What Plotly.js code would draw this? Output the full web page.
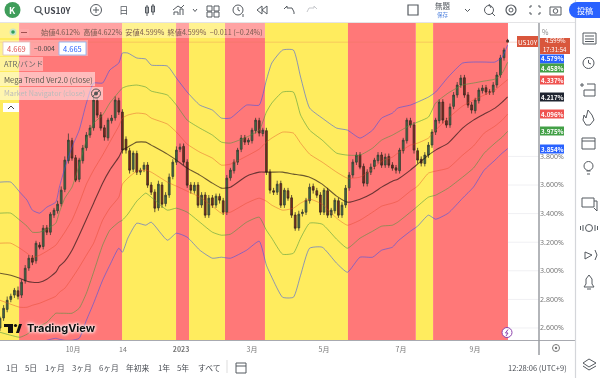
<!DOCTYPE html>
<html><head><meta charset="utf-8">
<script src="https://cdn.plot.ly/plotly-3.0.1.min.js"></script>
<style>html,body{margin:0;padding:0;background:#fff;overflow:hidden}#c{width:600px;height:378px;filter:blur(0.45px)}</style>
</head><body><div id="c"></div>
<script>
// ---- session index of the band samples
const bandX=[0,6,11,15,18,22,26,31,33,36,40,44,48,52,57,61,66,68,71,76,81,84,93,98,104,111,118,123,128,137,144,148,151,157,163,167,172,179,187,193,200,207,212,218,221,228,232,238,242,249,257,263,269,275,279,282];
const upper3=[3.620,3.620,3.550,3.494,3.424,3.403,3.445,3.480,3.585,3.718,3.865,3.984,4.173,4.313,4.313,4.404,4.453,4.523,4.523,4.488,4.481,4.439,4.432,4.348,4.250,4.159,4.124,4.068,4.068,4.159,4.159,4.334,4.453,4.544,4.544,4.355,4.138,4.068,3.998,3.984,3.928,3.984,4.068,4.103,4.138,4.159,4.180,4.215,4.250,4.355,4.453,4.460,4.460,4.460,4.495,4.579];
const upper2=[3.403,3.403,3.354,3.312,3.270,3.270,3.291,3.333,3.410,3.508,3.585,3.739,3.914,4.033,4.089,4.173,4.250,4.278,4.292,4.299,4.285,4.257,4.229,4.159,4.054,3.998,3.949,3.900,3.893,3.935,3.984,4.110,4.173,4.250,4.250,4.089,3.984,3.914,3.823,3.809,3.809,3.858,3.914,3.949,3.970,4.019,4.040,4.075,4.173,4.243,4.299,4.313,4.327,4.341,4.383,4.458];
const upper1=[3.193,3.193,3.158,3.123,3.095,3.109,3.137,3.179,3.214,3.270,3.354,3.473,3.606,3.704,3.809,3.900,4.012,4.068,4.089,4.103,4.096,4.068,4.026,3.970,3.886,3.830,3.788,3.739,3.746,3.802,3.851,3.900,3.928,3.970,3.963,3.893,3.816,3.760,3.690,3.648,3.655,3.711,3.767,3.795,3.823,3.879,3.893,3.928,3.984,4.068,4.152,4.194,4.229,4.264,4.306,4.337];
const center=[2.983,2.969,2.948,2.927,2.920,2.920,2.941,2.990,3.032,3.067,3.144,3.249,3.361,3.473,3.613,3.704,3.795,3.844,3.865,3.900,3.900,3.879,3.816,3.774,3.718,3.669,3.613,3.578,3.585,3.662,3.690,3.690,3.690,3.690,3.676,3.669,3.655,3.606,3.522,3.480,3.501,3.543,3.585,3.627,3.641,3.704,3.746,3.809,3.844,3.893,3.998,4.054,4.096,4.138,4.180,4.217];
const lower1=[2.794,2.766,2.745,2.745,2.759,2.773,2.794,2.822,2.850,2.878,2.948,3.025,3.109,3.193,3.354,3.438,3.515,3.606,3.648,3.697,3.704,3.690,3.620,3.592,3.557,3.515,3.452,3.403,3.410,3.473,3.508,3.487,3.459,3.424,3.438,3.473,3.501,3.466,3.368,3.319,3.354,3.410,3.452,3.473,3.487,3.557,3.592,3.683,3.697,3.718,3.809,3.872,3.963,4.012,4.054,4.096];
const lower2=[2.570,2.549,2.535,2.556,2.584,2.612,2.640,2.703,2.703,2.703,2.703,2.738,2.843,2.990,3.179,3.284,3.340,3.354,3.396,3.487,3.543,3.515,3.424,3.438,3.410,3.340,3.270,3.249,3.256,3.340,3.375,3.284,3.228,3.116,3.123,3.228,3.333,3.326,3.221,3.158,3.228,3.277,3.312,3.319,3.340,3.410,3.452,3.515,3.529,3.578,3.655,3.718,3.823,3.893,3.935,3.975];
const lower3=[2.430,2.416,2.416,2.444,2.472,2.493,2.514,2.528,2.521,2.514,2.514,2.528,2.654,2.773,2.934,3.039,3.158,3.130,3.228,3.333,3.319,3.340,3.214,3.263,3.235,3.144,3.088,3.095,3.088,3.144,3.207,3.039,2.955,2.815,2.815,2.969,3.158,3.165,3.053,2.990,3.095,3.095,3.144,3.165,3.207,3.277,3.312,3.389,3.361,3.403,3.508,3.585,3.704,3.774,3.823,3.854];
// ---- candles (every second session)
const closes=[2.668,2.738,2.794,2.822,2.864,2.822,2.920,3.018,3.088,3.060,3.193,3.165,3.298,3.270,3.396,3.424,3.466,3.564,3.774,3.914,3.788,3.634,3.774,3.858,3.949,3.998,4.194,4.089,3.998,3.935,4.054,4.068,4.194,4.110,3.844,3.844,3.704,3.823,3.690,3.704,3.739,3.599,3.550,3.438,3.606,3.466,3.529,3.655,3.760,3.844,3.865,3.760,3.599,3.564,3.599,3.459,3.529,3.389,3.508,3.459,3.522,3.494,3.410,3.648,3.704,3.760,3.844,3.928,3.900,3.914,3.984,4.054,3.963,3.984,3.690,3.564,3.550,3.606,3.459,3.564,3.508,3.389,3.298,3.396,3.410,3.494,3.585,3.564,3.529,3.410,3.564,3.389,3.424,3.494,3.389,3.459,3.578,3.669,3.760,3.809,3.725,3.613,3.690,3.725,3.774,3.809,3.739,3.795,3.739,3.718,3.704,3.844,3.914,4.054,4.019,3.844,3.774,3.753,3.809,3.879,3.970,4.054,4.180,4.054,4.019,4.145,4.229,4.299,4.348,4.229,4.159,4.124,4.194,4.264,4.278,4.250,4.250,4.299,4.369,4.488,4.544,4.599];
const opens=[2.60,2.67,2.73,2.80,2.83,2.86,2.83,2.93,3.02,3.09,3.07,3.18,3.17,3.30,3.27,3.39,3.42,3.47,3.57,3.77,3.91,3.79,3.64,3.77,3.86,3.95,4.00,4.19,4.09,4.00,3.93,4.05,4.07,4.19,4.11,3.92,3.84,3.71,3.82,3.69,3.71,3.74,3.60,3.55,3.44,3.60,3.47,3.53,3.66,3.76,3.85,3.87,3.76,3.60,3.56,3.60,3.46,3.53,3.39,3.51,3.46,3.52,3.49,3.41,3.65,3.70,3.76,3.85,3.93,3.90,3.91,3.98,4.05,3.96,3.98,3.69,3.56,3.55,3.61,3.46,3.56,3.51,3.39,3.30,3.40,3.41,3.49,3.59,3.56,3.53,3.41,3.56,3.39,3.42,3.49,3.39,3.46,3.58,3.67,3.76,3.81,3.73,3.61,3.69,3.73,3.77,3.81,3.74,3.80,3.74,3.72,3.70,3.84,3.91,4.05,4.02,3.84,3.78,3.75,3.81,3.88,3.97,4.05,4.18,4.05,4.02,4.15,4.23,4.30,4.35,4.23,4.16,4.12,4.19,4.26,4.28,4.25,4.25,4.30,4.37,4.49,4.612];
const highs=[2.68,2.76,2.82,2.84,2.88,2.89,2.94,3.04,3.11,3.11,3.21,3.20,3.32,3.32,3.41,3.44,3.49,3.59,3.80,3.96,3.93,3.81,3.79,3.88,3.97,4.02,4.22,4.21,4.11,4.02,4.07,4.09,4.22,4.21,4.13,3.94,3.86,3.84,3.84,3.72,3.76,3.76,3.62,3.57,3.63,3.62,3.55,3.68,3.78,3.87,3.89,3.89,3.78,3.62,3.62,3.62,3.55,3.55,3.53,3.53,3.54,3.54,3.51,3.67,3.72,3.78,3.86,3.95,3.95,3.93,4.00,4.07,4.07,4.00,4.00,3.71,3.58,3.63,3.63,3.58,3.58,3.53,3.41,3.42,3.43,3.51,3.61,3.61,3.58,3.55,3.58,3.58,3.44,3.51,3.51,3.48,3.60,3.69,3.78,3.83,3.83,3.75,3.71,3.75,3.79,3.83,3.83,3.82,3.82,3.76,3.74,3.86,3.93,4.07,4.07,4.04,3.86,3.80,3.83,3.90,3.99,4.07,4.20,4.20,4.07,4.17,4.25,4.32,4.37,4.37,4.25,4.18,4.21,4.28,4.30,4.30,4.27,4.32,4.39,4.51,4.56,4.622];
const lows=[2.58,2.65,2.71,2.78,2.81,2.80,2.81,2.91,3.00,3.04,3.05,3.15,3.15,3.25,3.25,3.37,3.40,3.45,3.55,3.75,3.77,3.62,3.62,3.75,3.84,3.93,3.98,4.07,3.98,3.91,3.91,4.03,4.05,4.09,3.82,3.82,3.68,3.69,3.67,3.67,3.69,3.58,3.53,3.41,3.42,3.44,3.45,3.51,3.64,3.74,3.83,3.74,3.58,3.54,3.54,3.44,3.44,3.37,3.37,3.44,3.44,3.47,3.39,3.39,3.63,3.68,3.74,3.83,3.88,3.88,3.89,3.96,3.94,3.94,3.67,3.54,3.53,3.53,3.44,3.44,3.49,3.37,3.28,3.28,3.38,3.39,3.47,3.54,3.51,3.39,3.39,3.37,3.37,3.40,3.37,3.37,3.44,3.56,3.65,3.74,3.71,3.59,3.59,3.67,3.71,3.75,3.72,3.72,3.72,3.70,3.68,3.68,3.82,3.89,4.00,3.82,3.75,3.73,3.73,3.79,3.86,3.95,4.03,4.03,4.00,4.00,4.13,4.21,4.28,4.21,4.14,4.10,4.10,4.17,4.24,4.23,4.23,4.23,4.28,4.35,4.47,4.599];
const candleX=closes.map((_,i)=>i*2);
// ---- trend regions: [start, end] in session index
const yellowSpans=[[0,10.6],[67.8,97.8],[105,125],[147.2,193.3],[231,240.6]];
const redSpans=[[10.6,67.8],[97.8,105],[125,147.2],[193.3,231],[240.6,282.2]];
// ---- axis labels
const priceTicks=[2.6,2.8,3.0,3.2,3.4,3.6,3.8];
const priceLabels=["2.600%","2.800%","3.000%","3.200%","3.400%","3.600%","3.800%"];
const timeTicks=[40.6,68.3,100.6,140,180,222.8,263.9];
const timeLabels=["10月","14","<b>2023</b>","3月","5月","7月","9月"];
const ohlcText="始値4.612%  高値4.622%  安値4.599%  終値4.599%  −0.011 (−0.24%)";
const rangeLabels=[["1日",12],["5日",31],["1ヶ月",55],["3ヶ月",82],["6ヶ月",109],["年初来",138],["1年",164],["5年",183],["すべて",209]];
const priceTags=[["4.579%",59,"#2962ff"],["4.458%",68,"#43a047"],["4.337%",80,"#ef5350"],["4.217%",97,"#1f2430"],["4.096%",114,"#ef5350"],["3.975%",131,"#43a047"],["3.854%",149,"#2962ff"]];

// ---- geometry helpers (page chrome only)
const PW=539,PH=317,PT=23;
const fx=x=>x/PW, fy=y=>1-(y-PT)/PH;
const shapes=[];
const rect=(x0,y0,x1,y1,fill,line,w,layer)=>shapes.push({type:'rect',xref:'paper',yref:'paper',x0:fx(x0),x1:fx(x1),y0:fy(y0),y1:fy(y1),fillcolor:fill||'rgba(0,0,0,0)',line:{color:line||'rgba(0,0,0,0)',width:line?(w||1):0},layer:layer||'above'});
const circ=(cx,cy,r,fill,line,w)=>shapes.push({type:'circle',xref:'paper',yref:'paper',x0:fx(cx-r),x1:fx(cx+r),y0:fy(cy-r),y1:fy(cy+r),fillcolor:fill||'rgba(0,0,0,0)',line:{color:line||'rgba(0,0,0,0)',width:line?(w||1):0},layer:'above'});
const poly=(pts,line,w,fill,close)=>shapes.push({type:'path',xref:'paper',yref:'paper',path:'M'+pts.map(p=>fx(p[0])+','+fy(p[1])).join('L')+(close?'Z':''),fillcolor:fill||'rgba(0,0,0,0)',line:{color:line||'rgba(0,0,0,0)',width:line?(w||1):0},layer:'above'});
const ann=[];
const text=(t,x,y,size,color,anchor,extra)=>ann.push(Object.assign({text:t,xref:'paper',yref:'paper',x:fx(x),y:fy(y),xanchor:anchor||'center',yanchor:'middle',showarrow:false,font:{size:size,color:color,family:'"Noto Sans CJK JP","Noto Sans",sans-serif'},borderpad:0},extra||{}));

// trend regions
yellowSpans.forEach(s=>shapes.push({type:'rect',xref:'x',yref:'paper',x0:s[0],x1:s[1],y0:0,y1:1,fillcolor:'#FFEC5E',line:{width:0},layer:'below'}));
redSpans.forEach(s=>shapes.push({type:'rect',xref:'x',yref:'paper',x0:s[0],x1:s[1],y0:0,y1:1,fillcolor:'#FF7878',line:{width:0},layer:'below'}));
// faint price grid, visible on the white part only
priceTicks.forEach(p=>shapes.push({type:'line',xref:'x',yref:'y',x0:282.2,x1:299.44,y0:p,y1:p,line:{color:'#f0f0f3',width:1},layer:'below'}));
// last price line
shapes.push({type:'line',xref:'paper',yref:'y',x0:0,x1:1,y0:4.599,y1:4.599,line:{color:'rgba(230,120,90,0.3)',width:1},layer:'above'});

const ink='#555a60';
// borders
rect(0,22,575,23,'#e4e4e6');
poly([[0,340.5],[575,340.5]],'#a8aab0',1);
poly([[539,23],[539,355]],'#9a9ca2',1.5);
poly([[575.5,0],[575.5,378]],'#d4d6da',1.2);
// top toolbar
circ(12.5,10,8,'#3f9d5a');
text('<b>K</b>',12.5,10,9,'#fff');
circ(38,9.5,3,null,ink,1.2); poly([[40,12],[43,15]],ink,1.2);
text('<b>US10Y</b>',57,10,8.5,'#40444c');
circ(96,10,5.5,null,ink,1); poly([[93,10],[99,10]],ink,1); poly([[96,7],[96,13]],ink,1);
text('日',124,10,9.5,ink);
[[147,6,14],[153,5,13]].forEach(b=>{poly([[b[0],b[1]-1],[b[0],b[2]+2]],ink,1);rect(b[0]-1.5,b[1]+1,b[0]+1.5,b[2]-1,null,ink,1);});
poly([[174,15],[174,12],[178,12],[178,15]],ink,1);poly([[180,15],[180,9],[183,9],[183,15]],ink,1);poly([[173,10],[178,6],[181,8],[184,5]],ink,1);
poly([[193,9],[195,11.5],[197,9]],ink,1);
[[207,6],[214,6],[207,12],[214,12]].forEach(p=>rect(p[0],p[1],p[0]+5,p[1]+5,null,ink,1));
circ(238,10,5,null,ink,1); poly([[238,7],[238,10],[240,11]],ink,1);poly([[243,14],[243,17]],ink,1);
poly([[262,6],[257,10],[262,14],[262,6]],ink,1);poly([[267,6],[262,10],[267,14],[267,6]],ink,1);
poly([[284,9],[287,6],[287,8],[292,8],[294,12],[294,14]],ink,1);
poly([[317,9],[314,6],[314,8],[309,8],[307,12]],'#c6c8cc',1);
rect(408,5,418,15,null,ink,1.2);
text('無題',443,6,7.5,ink); text('保存',443,15,5.5,'#5b8ae0');
poly([[465,9],[467.5,11.5],[470,9]],ink,1);
circ(489,10,4.5,null,ink,1);poly([[492,13],[495,16]],ink,1);poly([[489,4],[491,8]],ink,1);
circ(511,10,2,null,ink,1);circ(511,10,5,null,ink,1.2);
[[530,8,530,6,532,6],[538,6,540,6,540,8],[530,12,530,14,532,14],[538,14,540,14,540,12]].forEach(c=>poly([[c[0],c[1]],[c[2],c[3]],[c[4],c[5]]],ink,1));
rect(550,7,561,15,null,ink,1);circ(555.5,11,2.3,null,ink,1);
circ(577,10,8,'#2962ff');rect(577,2,600,18,'#2962ff');
text('投稿',585,10,8,'#fff');
// sidebar icons
rect(583,33,596,44,null,ink,1);poly([[585,36],[594,36]],ink,1);poly([[585,39],[594,39]],ink,1);poly([[585,41.5],[594,41.5]],ink,1);
circ(588.5,63,5.5,null,ink,1);poly([[588.5,60],[588.5,63],[591,64]],ink,1);
rect(584,90,595,96,null,ink,1);poly([[582,83],[582,87]],ink,1);poly([[580,85],[584,85]],ink,1);poly([[587,84],[595,84],[595,90]],ink,1);
poly([[588,110],[592,115],[594,120],[590,125],[586,125],[583,120],[584,115],[586,118],[588,110]],ink,1);
rect(582,138,595,149,null,ink,1);poly([[582,141],[595,141]],ink,1);
circ(588.5,166,4.5,null,ink,1);poly([[586.5,171],[590.5,171]],ink,1);poly([[587,174],[590,174]],ink,1);
rect(582,198,594,207,null,ink,1);poly([[594,201],[597,201],[597,211],[594,208]],ink,1);
circ(589,228,3.5,null,ink,1);poly([[583,225],[583,231]],ink,1);poly([[595,225],[595,231]],ink,1);poly([[580.5,226],[580.5,230]],ink,1);poly([[597.5,226],[597.5,230]],ink,1);
poly([[585,252],[592,255],[585,259],[585,252]],ink,1);poly([[595,250],[597,255],[595,260]],ink,1);
poly([[584,287],[586,284],[586,279],[589,275],[592,279],[592,284],[594,287],[584,287]],ink,1);poly([[587,289],[591,289]],ink,1);
poly([[583,363],[589,359],[596,363],[589,367],[583,363]],ink,1);poly([[583,366],[589,370],[596,366]],ink,1);
// legend panel
rect(0,23,265,38,'rgba(255,255,255,0.32)');
circ(13,32,3.5,'#c8e6c9');circ(13,32,1.8,'#2e9e5b');
rect(19,29,29,36,'rgba(255,170,170,0.8)');poly([[21,32.5],[27,32.5]],'#a05050',1);
text(ohlcText,40,32,7.2,'#7a5a50','left');
rect(0,40,88,56,'rgba(255,255,255,0.32)');
rect(3,42,30,55,'#fff','#e0c0c0',0.8);text('4.669',16.5,48.5,7.5,'#e05050');
text('−0.004',44,48.5,6.8,'#444');
rect(59,42,86,55,'#fff','#9ab8f0',1);text('4.665',72.5,48.5,7.5,'#2962ff');
rect(0,57,43,71,'rgba(255,255,255,0.38)');text('ATR/バンド',3,64,7.5,'#666','left');
rect(0,72,95,86,'rgba(255,255,255,0.5)');text('Mega Trend Ver2.0 (close)',3,79,7.5,'#5a5a50','left');
rect(0,87,103,100,'rgba(255,255,255,0.5)');text('Market Navigator (close)',3,93.5,7.2,'#bbb','left');
circ(96,93.5,4.5,null,'#555',1);circ(96,93.5,2,'#555');poly([[92,97],[100,90]],'#555',1);
rect(3,103,19,112,'#fff');poly([[8,109],[11,106],[14,109]],'#444',1);
// TradingView mark
rect(4,324,13,327,'#111');rect(8,324,13,333,'#111');circ(15.5,325.5,1.6,'#111');poly([[16,333],[19,324],[22,324],[19,333]],null,0,'#111',true);
text('<b>TradingView</b>',26,328,11,'#111','left',{font:{size:11,color:'#111',family:'"Inter","Noto Sans",sans-serif',shadow:'0 0 3px #fff, 0 0 3px #fff, 0 0 4px #fff'}});
// bolt
circ(507,332.5,5,'#fff','#8e44ad',1);poly([[508,329.5],[505.5,333],[508,333],[506,336]],'#8e44ad',1);
// right price tags
text('%',545,32,7,'#888');
rect(517,36,538,47,'#d9563c');text('US10Y',527.5,42,6.5,'#fff');
rect(540,38,570,54,'#d9563c');text('4.599%',555,40.5,6,'#fff');text('17:31:54',555,49.5,6,'#fff');
priceTags.forEach(t=>{rect(540,t[1]-4.5,564,t[1]+4.5,t[2]);text('<b>'+t[0]+'</b>',552,t[1],6.2,'#fff');});
// bottom bar
rangeLabels.forEach(r=>text(r[0],r[1],367,7.8,'#4a4e55'));
poly([[227,360],[227,373]],'#ddd',1);
rect(236,363,246,373,null,ink,1);poly([[236,366],[246,366]],ink,1);
text('12:28:06 (UTC+9)',537,368,7.5,'#4a4e55');
circ(556,348,3.5,null,'#777',1);circ(556,348,1.2,'#777');

const band=(y,color,width)=>({type:'scatter',mode:'lines',x:bandX,y:y,line:{color:color,width:width||1,shape:'spline',smoothing:0.5},hoverinfo:'skip',showlegend:false});
const traces=[
 band(upper3,'rgba(50,80,240,0.55)',1),
 band(upper2,'rgba(70,150,60,0.55)',1),
 band(upper1,'rgba(225,70,40,0.42)',1),
 band(center,'rgba(40,20,20,0.68)',1.1),
 band(lower1,'rgba(225,70,40,0.42)',1),
 band(lower2,'rgba(70,150,60,0.55)',1),
 band(lower3,'rgba(50,80,240,0.55)',1),
 {type:'candlestick',x:candleX,open:opens,high:highs,low:lows,close:closes,whiskerwidth:0,showlegend:false,hoverinfo:'skip',
  increasing:{fillcolor:'#3c6e47',line:{color:'#3a3a32',width:0.8}},
  decreasing:{fillcolor:'#7d2a1e',line:{color:'#3a2a22',width:0.8}}}
];
const layout={width:600,height:378,margin:{l:0,r:61,t:23,b:38},paper_bgcolor:'#fff',plot_bgcolor:'#fff',showlegend:false,
 xaxis:{type:'linear',range:[0,299.44],tickmode:'array',tickvals:timeTicks,ticktext:timeLabels,ticks:'',ticklabelstandoff:4,showgrid:false,zeroline:false,showline:false,rangeslider:{visible:false},tickfont:{size:7,color:'#777',family:'"Noto Sans CJK JP",sans-serif'},fixedrange:true},
 yaxis:{side:'right',range:[2.516,4.733],tickmode:'array',tickvals:priceTicks,ticktext:priceLabels,ticks:'',showgrid:false,zeroline:false,showline:false,tickfont:{size:7,color:'#777',family:'"Noto Sans",sans-serif'},ticklabelposition:'outside',fixedrange:true},
 shapes:shapes,annotations:ann,font:{family:'"Noto Sans CJK JP",sans-serif'}};
Plotly.newPlot('c',traces,layout,{staticPlot:true,displayModeBar:false});
</script></body></html>
